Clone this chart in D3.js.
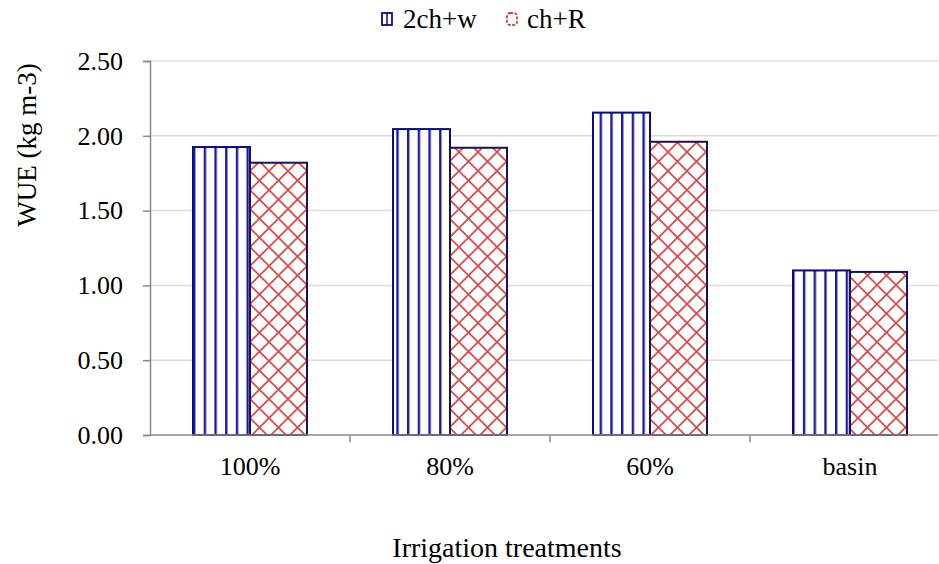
<!DOCTYPE html>
<html>
<head>
<meta charset="utf-8">
<script src="https://cdn.jsdelivr.net/npm/d3@7"></script>
<style>
  body { margin: 0; background: #fff; }
  svg text { font-family: "Times New Roman", "Liberation Serif", Times, serif !important; fill: #000; }
</style>
</head>
<body>
<div id="chart"></div>
<script>
// data
var categories = ["100%", "80%", "60%", "basin"]
var seriesNames = ["2ch+w", "ch+R"]
var wue2chw = [1.925, 2.045, 2.155, 1.10]
var wueChR = [1.82, 1.92, 1.96, 1.09]
var yTicks = [0, 0.5, 1.0, 1.5, 2.0, 2.5]

var width = 939
var height = 564

var svg = d3.select("#chart")
  .append("svg")
    .attr("width", width)
    .attr("height", height)

// patterns
var defs = svg.append("defs")

var stripes = defs.append("pattern")
    .attr("id", "stripes")
    .attr("patternUnits", "userSpaceOnUse")
    .attr("width", 10.7)
    .attr("height", 10)
    .attr("x", 193)
stripes.append("rect").attr("width", 10.7).attr("height", 10).attr("fill", "#fff")
stripes.append("rect").attr("x", 0).attr("width", 2.4).attr("height", 10).attr("fill", "#1a1aa6")

var hatch = defs.append("pattern")
    .attr("id", "hatch")
    .attr("patternUnits", "userSpaceOnUse")
    .attr("width", 19)
    .attr("height", 19)
    .attr("x", 250)
    .attr("y", 0)
hatch.append("rect").attr("width", 19).attr("height", 19).attr("fill", "#fff")
hatch.append("path")
    .attr("d", "M0,0 L19,19 M19,0 L0,19 M-1,18 L1,20 M18,-1 L20,1 M-1,1 L1,-1 M18,20 L20,18")
    .attr("stroke", "#e04848")
    .attr("stroke-width", 1.7)
    .attr("fill", "none")

var x = d3.scaleBand()
  .domain(categories)
  .range([150, 950])

var y = d3.scaleLinear()
  .domain([0, 2.5])
  .range([435, 61])

// gridlines
svg.append("g")
  .selectAll("line")
  .data(yTicks.filter(d => d > 0))
  .enter().append("line")
    .attr("x1", 150)
    .attr("x2", 938)
    .attr("y1", d => y(d))
    .attr("y2", d => y(d))
    .attr("stroke", "#dcdcdc")
    .attr("stroke-width", 1.5)

var barW = 57
var rows = categories.map((c, i) => ({cat: c, a: wue2chw[i], b: wueChR[i]}))

svg.append("g")
  .selectAll("rect")
  .data(rows)
  .enter().append("rect")
    .attr("x", d => x(d.cat) + x.bandwidth() / 2 - barW)
    .attr("y", d => y(d.a))
    .attr("width", barW)
    .attr("height", d => y(0) - y(d.a))
    .attr("fill", "url(#stripes)")
    .attr("stroke", "#0a0a8c")
    .attr("stroke-width", 2)

svg.append("g")
  .selectAll("rect")
  .data(rows)
  .enter().append("rect")
    .attr("x", d => x(d.cat) + x.bandwidth() / 2)
    .attr("y", d => y(d.b))
    .attr("width", barW)
    .attr("height", d => y(0) - y(d.b))
    .attr("fill", "url(#hatch)")
    .attr("stroke", "#14145a")
    .attr("stroke-width", 2)

// y axis
var yAxis = svg.append("g")
  .attr("transform", "translate(150,0)")
  .call(d3.axisLeft(y).tickValues(yTicks).tickFormat(d3.format(".2f")).tickSize(7).tickPadding(20))
yAxis.attr("font-family", null)
yAxis.select(".domain").attr("stroke", "#888").attr("stroke-width", 1.5)
yAxis.selectAll(".tick line").attr("stroke", "#888").attr("stroke-width", 1.5)
yAxis.selectAll("text").style("font-size", "26px")

// x axis
var xAxis = svg.append("g")
  .attr("transform", "translate(0,435)")
  .call(d3.axisBottom(x).tickSize(0).tickPadding(22))
xAxis.attr("font-family", null)
xAxis.select(".domain").attr("d", "M150,0H938").attr("stroke", "#888").attr("stroke-width", 1.5)
xAxis.selectAll("text").style("font-size", "26px")

// category separators
svg.append("g")
  .selectAll("line")
  .data(categories)
  .enter().append("line")
    .attr("x1", d => x(d) + x.bandwidth())
    .attr("x2", d => x(d) + x.bandwidth())
    .attr("y1", 435)
    .attr("y2", 442)
    .attr("stroke", "#888")
    .attr("stroke-width", 1.5)

// titles
svg.append("text")
  .attr("x", 507)
  .attr("y", 557)
  .attr("text-anchor", "middle")
  .style("font-size", "28px")
  .text("Irrigation treatments")

svg.append("text")
  .attr("transform", "translate(36,145) rotate(-90)")
  .attr("text-anchor", "middle")
  .style("font-size", "27px")
  .text("WUE (kg m-3)")

// legend
var legend = [["2ch+w", "#0a0a8c", 382, 403], ["ch+R", "#e03a3a", 507, 527]]
svg.selectAll("legRect")
  .data(legend)
  .enter().append("rect")
    .attr("x", d => d[2])
    .attr("y", 13)
    .attr("width", 10)
    .attr("height", 12)
    .attr("rx", d => d[0] == "ch+R" ? 3 : 0)
    .attr("fill", "#fff")
    .attr("stroke", d => d[1])
    .attr("stroke-width", 1.8)
    .attr("stroke-dasharray", d => d[0] == "ch+R" ? "3,1.5" : null)
svg.append("line")
  .attr("x1", 387).attr("x2", 387).attr("y1", 13).attr("y2", 25)
  .attr("stroke", "#0a0a8c").attr("stroke-width", 1.5)
svg.selectAll("legText")
  .data(legend)
  .enter().append("text")
    .attr("x", d => d[3])
    .attr("y", 28)
    .style("font-size", "27px")
    .text(d => d[0])
</script>
</body>
</html>
